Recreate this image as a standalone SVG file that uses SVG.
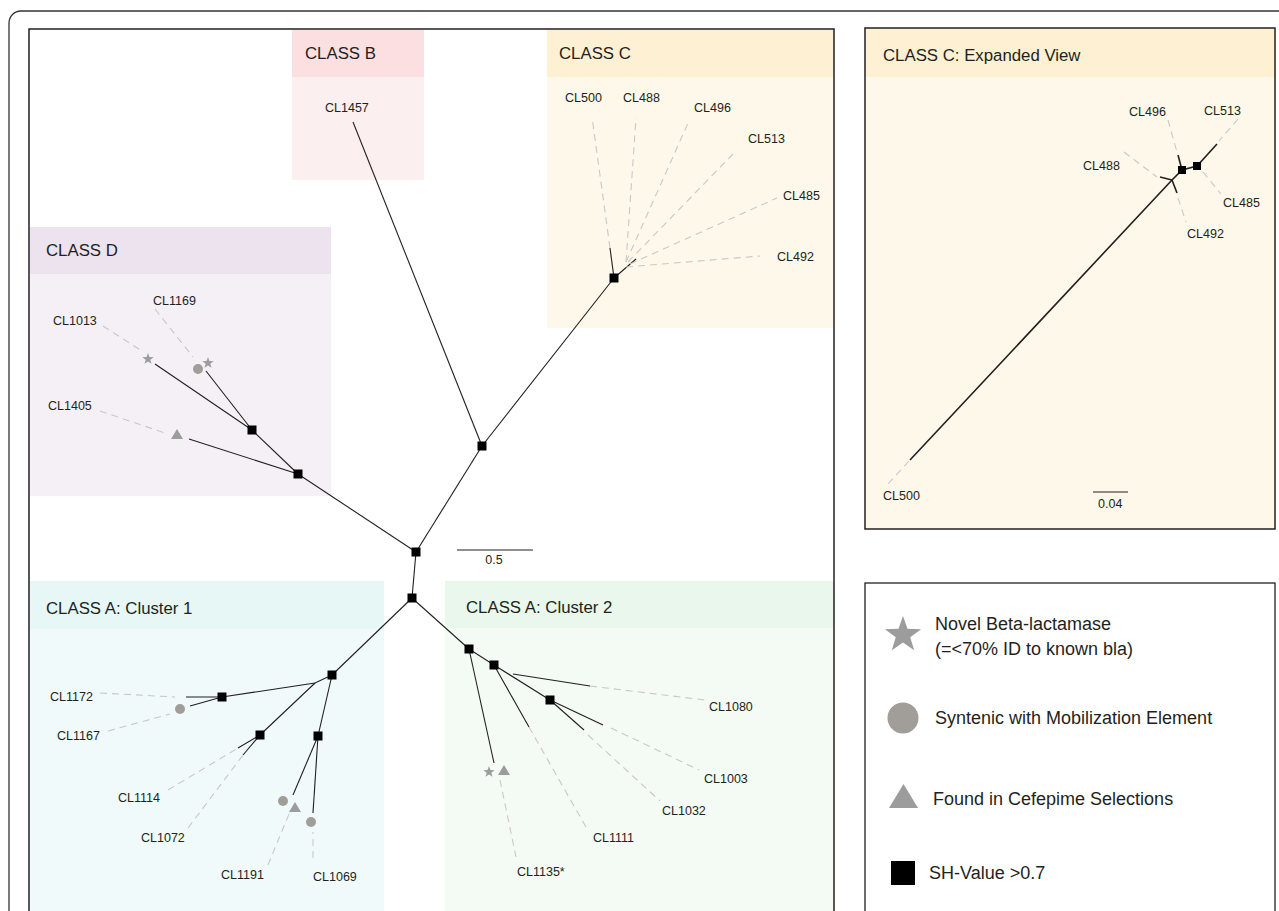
<svg xmlns="http://www.w3.org/2000/svg" xmlns:xlink="http://www.w3.org/1999/xlink" width="1279" height="911" viewBox="0 0 1279 911">
<style>
.lbl{font-family:"Liberation Sans",Arial,sans-serif;font-size:12.5px;fill:#231f20}
.hdr{font-family:"Liberation Sans",Arial,sans-serif;font-size:16.8px;fill:#231f20}
.leg{font-family:"Liberation Sans",Arial,sans-serif;font-size:18px;fill:#231f20}
.br{stroke:#231f20;stroke-width:1.1;fill:none}
.brx{stroke:#231f20;stroke-width:1.6;fill:none}
.dash{stroke:#c8c8c8;stroke-width:1.1;stroke-dasharray:7 5;fill:none}
.nd{fill:#000}
.sym{fill:#9c9c9c}
.circ{fill:#a19d99}
</style>
<defs>
<path id="star" d="M0,-10 L2.35,-3.24 L9.51,-3.09 L3.8,1.24 L5.88,8.09 L0,4 L-5.88,8.09 L-3.8,1.24 L-9.51,-3.09 L-2.35,-3.24 Z"/>
</defs>
<rect x="0" y="0" width="1279" height="911" fill="#fff"/>
<rect x="9" y="11" width="1300" height="950" rx="12" fill="none" stroke="#333" stroke-width="1.3"/>

<!-- main panel background -->
<rect x="29" y="29" width="805" height="900" fill="#fff"/>

<g id="class-b">
<rect x="292" y="30" width="132" height="47" fill="#fbdfe1"/>
<rect x="292" y="77" width="132" height="103" fill="#fcefef"/>
<text class="hdr" x="305" y="59">CLASS B</text>
</g>
<g id="class-c">
<rect x="547" y="30" width="287" height="47" fill="#fdf0d3"/>
<rect x="547" y="77" width="287" height="251" fill="#fdf8e9"/>
<text class="hdr" x="559" y="59">CLASS C</text>
</g>
<g id="class-d">
<rect x="30" y="227" width="301" height="47" fill="#ede3ee"/>
<rect x="30" y="274" width="301" height="222" fill="#f4f0f6"/>
<text class="hdr" x="46" y="256">CLASS D</text>
</g>
<g id="class-a1">
<rect x="30" y="581" width="354" height="48" fill="#e6f7f6"/>
<rect x="30" y="629" width="354" height="290" fill="#f0fafb"/>
<text class="hdr" x="46" y="614">CLASS A: Cluster 1</text>
</g>
<g id="class-a2">
<rect x="445" y="581" width="389" height="47" fill="#eaf7ec"/>
<rect x="445" y="628" width="389" height="290" fill="#f3fbf4"/>
<text class="hdr" x="466" y="613">CLASS A: Cluster 2</text>
</g>

<rect x="29" y="29" width="805" height="900" fill="none" stroke="#231f20" stroke-width="1.5"/>

<g id="connectors">
<!-- backbone -->
<path class="br" d="M416,552 L412,598"/>
<path class="br" d="M416,552 L482,446"/>
<path class="br" d="M482,446 L353,122"/>
<path class="br" d="M482,446 L614,278"/>
<!-- class C -->
<path class="br" d="M614,278 L610,248"/>
<path class="br" d="M614,278 L636,259"/>
<path class="dash" d="M610,248 L592,117"/>
<path class="dash" d="M626,262 L636,118"/>
<path class="dash" d="M626,262 L689,121"/>
<path class="dash" d="M628,262 L733,154"/>
<path class="dash" d="M630,264 L777,198"/>
<path class="dash" d="M626,267 L760,256"/>
<!-- class D -->
<path class="br" d="M416,552 L298,474"/>
<path class="br" d="M298,474 L252,430"/>
<path class="br" d="M298,474 L189,439"/>
<path class="br" d="M252,430 L155,364"/>
<path class="br" d="M252,430 L206,371"/>
<path class="dash" d="M103,326 L142,351"/>
<path class="dash" d="M155,309 L193,357"/>
<path class="dash" d="M100,411 L165,433"/>
<!-- class A cluster 1 -->
<path class="br" d="M412,598 L332,675"/>
<path class="br" d="M332,675 L315,683 L222,697"/>
<path class="br" d="M315,683 L260,735"/>
<path class="br" d="M332,675 L318,736"/>
<path class="br" d="M222,697 L186,697"/>
<path class="br" d="M222,697 L190,706"/>
<path class="br" d="M260,735 L238,748"/>
<path class="br" d="M260,735 L243,755"/>
<path class="br" d="M318,736 L293,795"/>
<path class="br" d="M318,736 L313,813"/>
<path class="dash" d="M100,693 L175,697"/>
<path class="dash" d="M108,731 L170,714"/>
<path class="dash" d="M168,790 L238,748"/>
<path class="dash" d="M188,828 L243,755"/>
<path class="dash" d="M268,865 L289,814"/>
<path class="dash" d="M313,858 L313,832"/>
<!-- class A cluster 2 -->
<path class="br" d="M412,598 L469,649"/>
<path class="br" d="M469,649 L494,665"/>
<path class="br" d="M469,649 L494,763"/>
<path class="br" d="M494,665 L529,727"/>
<path class="br" d="M494,665 L550,700"/>
<path class="br" d="M513,674 L590,686"/>
<path class="br" d="M550,700 L603,725"/>
<path class="br" d="M550,700 L584,730"/>
<path class="dash" d="M500,780 L516,857"/>
<path class="dash" d="M529,727 L586,827"/>
<path class="dash" d="M590,686 L705,700"/>
<path class="dash" d="M611,728 L699,770"/>
<path class="dash" d="M588,735 L660,801"/>
</g>

<g id="scale-main">
<line x1="457" y1="550" x2="533" y2="550" stroke="#231f20" stroke-width="1.2"/>
<text class="lbl" x="494" y="564" text-anchor="middle">0.5</text>
</g>

<g id="leaf-labels">
<text class="lbl" x="325" y="112">CL1457</text>
<text class="lbl" x="565" y="102">CL500</text>
<text class="lbl" x="623" y="102">CL488</text>
<text class="lbl" x="694" y="112">CL496</text>
<text class="lbl" x="748" y="143">CL513</text>
<text class="lbl" x="783" y="200">CL485</text>
<text class="lbl" x="777" y="261">CL492</text>
<text class="lbl" x="53" y="325">CL1013</text>
<text class="lbl" x="153" y="305">CL1169</text>
<text class="lbl" x="48" y="410">CL1405</text>
<text class="lbl" x="50" y="701">CL1172</text>
<text class="lbl" x="57" y="740">CL1167</text>
<text class="lbl" x="118" y="802">CL1114</text>
<text class="lbl" x="141" y="842">CL1072</text>
<text class="lbl" x="221" y="879">CL1191</text>
<text class="lbl" x="313" y="881">CL1069</text>
<text class="lbl" x="709" y="711">CL1080</text>
<text class="lbl" x="704" y="783">CL1003</text>
<text class="lbl" x="662" y="815">CL1032</text>
<text class="lbl" x="593" y="842">CL1111</text>
<text class="lbl" x="517" y="876">CL1135*</text>
</g>

<g id="markers">
<use href="#star" class="sym" transform="translate(148,359) scale(0.6)"/>
<circle class="circ" cx="198" cy="369" r="5"/>
<use href="#star" class="sym" transform="translate(208,363) scale(0.6)"/>
<polygon class="sym" points="171,439 183,439 177,429"/>
<circle class="circ" cx="180" cy="709" r="5"/>
<circle class="circ" cx="283" cy="801" r="5"/>
<polygon class="sym" points="289,812 301,812 295,802"/>
<circle class="circ" cx="311" cy="822" r="5"/>
<use href="#star" class="sym" transform="translate(489,772) scale(0.6)"/>
<polygon class="sym" points="498,775 510,775 504,765"/>
</g>

<g id="nodes">
<rect class="nd" x="411.5" y="547.5" width="9" height="9"/>
<rect class="nd" x="407.5" y="593.5" width="9" height="9"/>
<rect class="nd" x="477.5" y="441.5" width="9" height="9"/>
<rect class="nd" x="609.5" y="273.5" width="9" height="9"/>
<rect class="nd" x="293.5" y="469.5" width="9" height="9"/>
<rect class="nd" x="247.5" y="425.5" width="9" height="9"/>
<rect class="nd" x="327.5" y="670.5" width="9" height="9"/>
<rect class="nd" x="217.5" y="692.5" width="9" height="9"/>
<rect class="nd" x="255.5" y="730.5" width="9" height="9"/>
<rect class="nd" x="313.5" y="731.5" width="9" height="9"/>
<rect class="nd" x="464.5" y="644.5" width="9" height="9"/>
<rect class="nd" x="489.5" y="660.5" width="9" height="9"/>
<rect class="nd" x="545.5" y="695.5" width="9" height="9"/>
</g>

<g id="expanded-view">
<rect x="865" y="28" width="410" height="49" fill="#fdf0d3"/>
<rect x="865" y="77" width="410" height="452" fill="#fdf8e9"/>
<rect x="865" y="28" width="410" height="501" fill="none" stroke="#231f20" stroke-width="1.5"/>
<text class="hdr" x="883" y="61">CLASS C: Expanded View</text>
<path class="brx" d="M910,460 L1172,180 L1182,170 L1197,166 L1217,144"/>
<path class="brx" d="M1172,180 L1160,177"/>
<path class="brx" d="M1172,180 L1177,193"/>
<path class="brx" d="M1182,170 L1178,155"/>
<path class="dash" d="M909,461 L888,484"/>
<path class="dash" d="M1124,152 L1157,177"/>
<path class="dash" d="M1168,120 L1177,152"/>
<path class="dash" d="M1238,119 L1219,141"/>
<path class="dash" d="M1203,172 L1221,194"/>
<path class="dash" d="M1178,198 L1186,222"/>
<rect class="nd" x="1178" y="166" width="8" height="8"/>
<rect class="nd" x="1193" y="162" width="8" height="8"/>
<text class="lbl" x="1129" y="116">CL496</text>
<text class="lbl" x="1204" y="115">CL513</text>
<text class="lbl" x="1083" y="170">CL488</text>
<text class="lbl" x="1223" y="207">CL485</text>
<text class="lbl" x="1187" y="238">CL492</text>
<text class="lbl" x="883" y="500">CL500</text>
<line x1="1093" y1="492" x2="1128" y2="492" stroke="#231f20" stroke-width="1.2"/>
<text class="lbl" x="1098" y="508">0.04</text>
</g>

<g id="legend">
<rect x="865" y="583" width="410" height="340" fill="#fff" stroke="#231f20" stroke-width="1.3"/>
<use href="#star" class="sym" transform="translate(903,635) scale(1.9)"/>
<text class="leg" x="935" y="630">Novel Beta-lactamase</text>
<text class="leg" x="935" y="655">(=&lt;70% ID to known bla)</text>
<circle class="circ" cx="903" cy="718" r="15.5"/>
<text class="leg" x="935" y="724">Syntenic with Mobilization Element</text>
<polygon class="sym" points="889,808 918,808 903.5,784"/>
<text class="leg" x="933" y="805">Found in Cefepime Selections</text>
<rect class="nd" x="891" y="861" width="24" height="24"/>
<text class="leg" x="929" y="879">SH-Value &gt;0.7</text>
</g>
</svg>
